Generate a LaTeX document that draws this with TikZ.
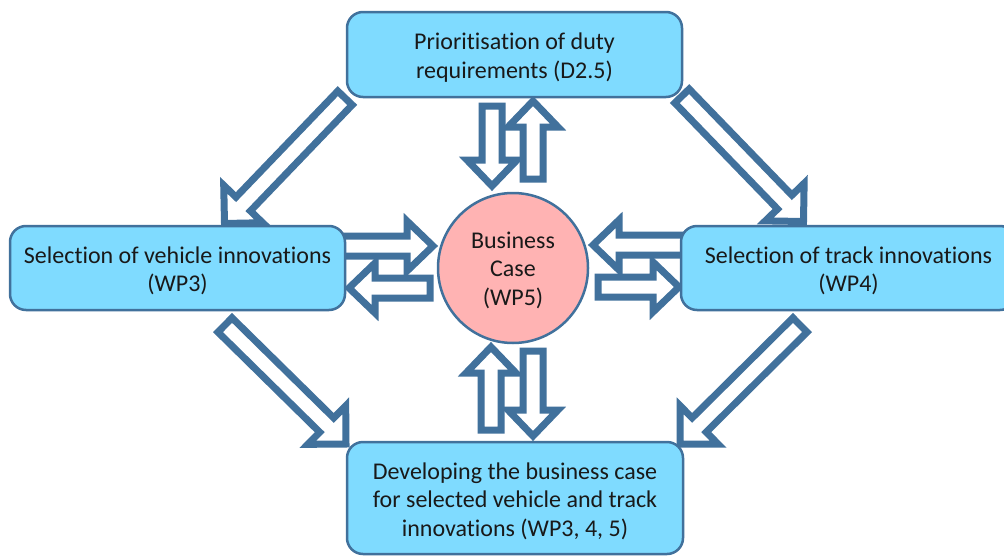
\documentclass[tikz,border=0pt]{standalone}
\usepackage{fontspec}
\setmainfont{Carlito}[Ligatures=NoCommon]
\usetikzlibrary{calc}
\definecolor{edgeblue}{HTML}{41719C}
\definecolor{boxfill}{HTML}{7FDBFF}
\definecolor{circfill}{HTML}{FFB3B3}
\newcommand\blockarr[6]{% name, tail, tip, shaft half width, head half width, head length
 \coordinate (#1-t) at (#2);
 \coordinate (#1-p) at (#3);
 \coordinate (#1-h) at ($(#1-p)!#6pt!(#1-t)$);
 \draw[blockarrow] ($(#1-t)!#4pt!90:(#1-p)$) -- ($(#1-h)!#4pt!90:(#1-p)$) -- ($(#1-h)!#5pt!90:(#1-p)$) -- (#1-p) -- ($(#1-h)!#5pt!-90:(#1-p)$) -- ($(#1-h)!#4pt!-90:(#1-p)$) -- ($(#1-t)!#4pt!-90:(#1-p)$) -- cycle;
}
\begin{document}
\begin{tikzpicture}[x=1pt,y=-1pt,
  blockarrow/.style={draw=edgeblue, fill=white, line width=7pt, line join=miter},
  box/.style={draw=edgeblue, fill=boxfill, line width=2.5pt, rounded corners=16pt, inner sep=0pt},
  bubble/.style={circle, draw=edgeblue, fill=circfill, line width=2.5pt, inner sep=0pt, minimum size=150pt},
  txt/.style={align=center, inner sep=0pt, text=black!90, font=\fontsize{24}{28.5}\selectfont}]
\clip (0,0) rectangle (1004,557);
\fill[white] (0,0) rectangle (1004,557);
% diagonal arrows
\blockarr{a1}{345,98}{224.5,223.5}{10}{27}{27}
\blockarr{a2}{682,96}{803.5,221.5}{10}{27}{27}
\blockarr{a3}{225,325}{346,444}{10}{27}{27}
\blockarr{a4}{800,325}{680,444}{10}{27}{27}
% vertical pairs
\blockarr{v1}{492,106}{492,186}{10}{25}{26}
\blockarr{v2}{533,179}{533,101}{10}{25}{26}
\blockarr{v3}{491,430}{491,347}{10}{25}{26}
\blockarr{v4}{533,351}{533,436}{10}{25}{26}
% horizontal pairs
\blockarr{h1}{340,246}{433,246}{10}{25}{26}
\blockarr{h2}{430,288}{349,288}{10}{25}{26}
\blockarr{h3}{686,245}{593,245}{10}{25}{26}
\blockarr{h4}{598,287}{679,287}{10}{25}{26}
% shapes
\node[box, minimum width=335pt, minimum height=85pt] (prio) at (514.5,54.5) {};
\node[box, minimum width=335pt, minimum height=84pt] (veh) at (177.5,268) {};
\node[box, minimum width=335pt, minimum height=84pt] (trk) at (848.5,268) {};
\node[box, minimum width=336pt, minimum height=112pt] (dev) at (515,498) {};
\node[bubble] (bc) at (513,268) {};
% texts
\node[txt] (prio-t) at ([yshift=-3pt]prio.center) {Prioritisation of duty\\requirements (D2.5)};
\node[txt] (veh-t) at ([yshift=-3pt]veh.center) {Selection of vehicle innovations\\(WP3)};
\node[txt] (trk-t) at ([yshift=-3pt]trk.center) {Selection of track innovations\\(WP4)};
\node[txt] (dev-t) at ([yshift=-3pt]dev.center) {Developing the business case\\for selected vehicle and track\\innovations (WP3, 4, 5)};
\node[txt] (bc-t) at ([yshift=-2pt]bc.center) {Business\\Case\\(WP5)};
\end{tikzpicture}
\end{document}
